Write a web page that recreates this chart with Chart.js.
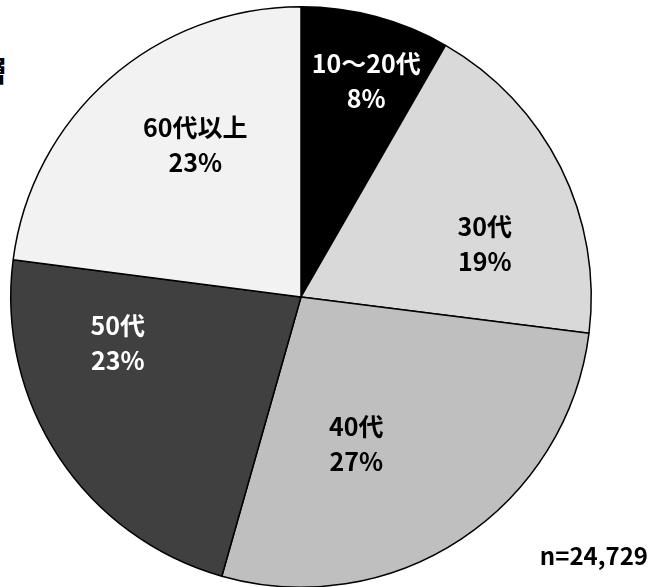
<!DOCTYPE html>
<html lang="ja">
<head>
<meta charset="utf-8">
<title>年代別構成</title>
<script src="https://cdn.jsdelivr.net/npm/chart.js@4/dist/chart.umd.min.js"></script>
<style>
  html, body { margin: 0; padding: 0; background: #ffffff; overflow: hidden; width: 653px; height: 587px; }
  #wrap { position: absolute; left: 0; top: 0; width: 653px; height: 600px; }
  #side { position: absolute; right: 646px; top: 50px; font: bold 29px "Noto Sans CJK JP", sans-serif; color: #000; white-space: nowrap; line-height: 38px; }
</style>
</head>
<body>
<div id="side">層</div>
<div id="wrap"><canvas id="pie" width="653" height="600"></canvas></div>
<script>
// Age groups and respondent counts (total n = 24,729)
const ageGroups = ['10～20代', '30代', '40代', '50代', '60代以上'];
const respondents = [2052, 4624, 6776, 5600, 5677];
const sampleLabel = 'n=24,729';

// Slice fills and label colours
const sliceColors = ['#000000', '#d9d9d9', '#bfbfbf', '#404040', '#f2f2f2'];
const textColors = ['#ffffff', '#000000', '#000000', '#ffffff', '#000000'];

// Label anchor inside each slice: fraction along the sweep, fraction of radius
const labelAnchor = [
  { sweep: 0.56, radius: 0.78 },
  { sweep: 0.65, radius: 0.66 },
  { sweep: 0.63, radius: 0.54 },
  { sweep: 0.74, radius: 0.65 },
  { sweep: 0.58, radius: 0.64 }
];

const total = respondents.reduce((a, b) => a + b, 0);
const LABEL_FONT = 'bold 25px "Noto Sans CJK JP", "Noto Sans", sans-serif';

const sliceLabels = {
  id: 'sliceLabels',
  afterDatasetsDraw(chart) {
    const ctx = chart.ctx;
    const meta = chart.getDatasetMeta(0);
    ctx.save();
    ctx.font = LABEL_FONT;
    ctx.textAlign = 'center';
    ctx.textBaseline = 'middle';
    meta.data.forEach((arc, i) => {
      const p = arc.getProps(['x', 'y', 'startAngle', 'endAngle', 'outerRadius'], true);
      const a = labelAnchor[i];
      const ang = p.startAngle + (p.endAngle - p.startAngle) * a.sweep;
      const r = p.outerRadius * a.radius;
      const cx = p.x + Math.cos(ang) * r;
      const cy = p.y + Math.sin(ang) * r;
      const pct = Math.round(respondents[i] / total * 100) + '%';
      ctx.fillStyle = textColors[i];
      ctx.fillText(ageGroups[i], cx, cy - 17);
      ctx.fillText(pct, cx, cy + 18);
    });
    // sample size note at lower right
    ctx.fillStyle = '#000000';
    ctx.font = 'bold 24px "Noto Sans CJK JP", "Noto Sans", sans-serif';
    ctx.textAlign = 'right';
    ctx.fillText(sampleLabel, 648, 556);
    ctx.restore();
  }
};

new Chart(document.getElementById('pie'), {
  type: 'pie',
  data: {
    labels: ageGroups,
    datasets: [{
      data: respondents,
      backgroundColor: sliceColors,
      borderColor: '#000000',
      borderWidth: 1.5
    }]
  },
  options: {
    responsive: false,
    animation: false,
    layout: { padding: { left: 10, right: 61, top: 6, bottom: 12 } },
    plugins: {
      legend: { display: false },
      tooltip: { enabled: false }
    }
  },
  plugins: [sliceLabels]
});
</script>
</body>
</html>
